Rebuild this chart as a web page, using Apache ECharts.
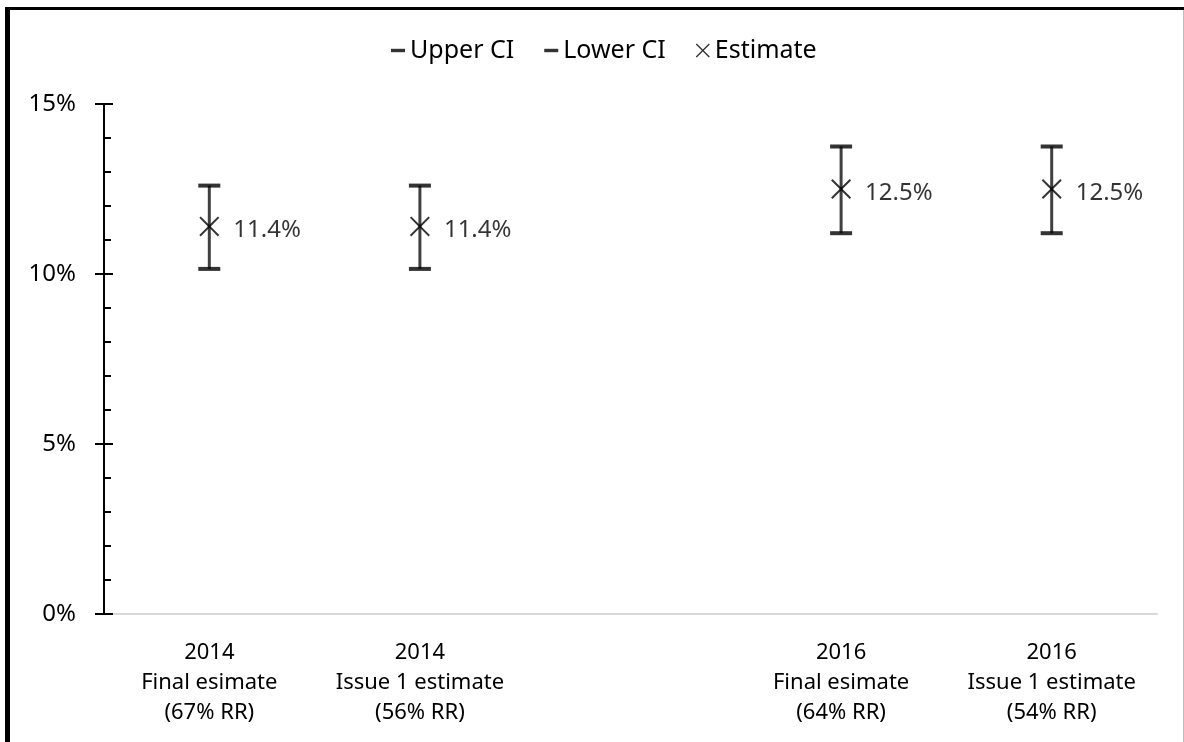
<!DOCTYPE html>
<html>
<head>
<meta charset="utf-8">
<script src="https://cdn.jsdelivr.net/npm/echarts@6/dist/echarts.min.js"></script>
<style>
  html, body { margin: 0; padding: 0; background: #fff; }
  #chart { width: 1184px; height: 742px; }
</style>
</head>
<body>
<div id="chart"></div>
<script>
// Survey estimates with confidence intervals (percent)
const categories = [
  '2014\nFinal esimate\n(67% RR)',
  '2014\nIssue 1 estimate\n(56% RR)',
  '',
  '2016\nFinal esimate\n(64% RR)',
  '2016\nIssue 1 estimate\n(54% RR)'
];
const upperCI  = [12.6, 12.6, null, 13.75, 13.75];
const lowerCI  = [10.15, 10.15, null, 11.2, 11.2];
const estimate = [11.4, 11.4, null, 12.5, 12.5];
const yTicks = [0, 5, 10, 15];

const FONT = '"Noto Sans", "Open Sans", sans-serif';
const TEXT = '#000';

// cross marker drawn as a filled outline so it renders as a thin X
const crossPath = 'path://M0,1.4L1.4,0L10,8.6L18.6,0L20,1.4L11.4,10L20,18.6L18.6,20L10,11.4L1.4,20L0,18.6L8.6,10Z';
// short thick dash, padded to a square box for the legend icon
const dashIcon = 'path://M0,0M14,14M0,5.3h14v3.4h-14z';

const toSeries = arr => arr.map(v => (v == null ? '-' : v));
const rangeData = categories
  .map((c, i) => (lowerCI[i] == null ? null : [i, lowerCI[i], upperCI[i]]))
  .filter(d => d !== null);

const chart = echarts.init(document.getElementById('chart'), null, { renderer: 'canvas' });

chart.setOption({
  backgroundColor: '#fff',
  animation: false,
  textStyle: { fontFamily: FONT },
  grid: { left: 104, right: 27, top: 104, bottom: 128, containLabel: false },
  legend: {
    left: 386,
    top: 33,
    itemWidth: 14,
    itemHeight: 14,
    itemGap: 30,
    textStyle: { fontFamily: FONT, fontSize: 25, color: TEXT },
    data: [
      { name: 'Upper CI', icon: dashIcon },
      { name: 'Lower CI', icon: dashIcon },
      { name: 'Estimate', icon: crossPath }
    ]
  },
  xAxis: {
    type: 'category',
    data: categories,
    boundaryGap: true,
    axisLine: { show: true, lineStyle: { color: '#d9d9d9', width: 2 } },
    axisTick: { show: false },
    axisLabel: {
      interval: 0,
      margin: 24,
      fontFamily: FONT,
      fontSize: 22,
      lineHeight: 30,
      color: TEXT,
      align: 'center'
    },
    splitLine: { show: false }
  },
  yAxis: [
    {
      type: 'value',
      min: 0,
      max: 15,
      interval: 5,
      axisLine: { show: true, onZero: false, lineStyle: { color: '#000', width: 2 } },
      axisTick: { show: true, inside: true, length: 9, lineStyle: { color: '#000', width: 2 } },
      minorTick: { show: true, splitNumber: 5, length: 7, lineStyle: { color: '#000', width: 2 } },
      axisLabel: {
        formatter: v => (yTicks.includes(v) ? v + '%' : ''),
        margin: 28,
        fontFamily: FONT,
        fontSize: 24,
        color: TEXT,
        padding: [4, 0, 0, 0]
      },
      splitLine: { show: false }
    },
    {
      // outward half of the crossing major ticks
      type: 'value',
      position: 'left',
      offset: 0,
      min: 0,
      max: 15,
      interval: 5,
      axisLine: { show: false },
      axisTick: { show: true, inside: false, length: 9, lineStyle: { color: '#000', width: 2 } },
      axisLabel: { show: false },
      splitLine: { show: false }
    }
  ],
  series: [
    {
      name: 'CI range',
      type: 'custom',
      z: 1,
      data: rangeData,
      renderItem: function (params, api) {
        const lo = api.coord([api.value(0), api.value(1)]);
        const hi = api.coord([api.value(0), api.value(2)]);
        return {
          type: 'line',
          shape: { x1: lo[0], y1: lo[1], x2: hi[0], y2: hi[1] },
          style: { stroke: '#404040', lineWidth: 3 }
        };
      },
      silent: true
    },
    {
      name: 'Upper CI',
      type: 'scatter',
      z: 3,
      symbol: 'rect',
      symbolSize: [22, 4],
      itemStyle: { color: '#000' },
      data: toSeries(upperCI)
    },
    {
      name: 'Lower CI',
      type: 'scatter',
      z: 3,
      symbol: 'rect',
      symbolSize: [22, 4],
      itemStyle: { color: '#000' },
      data: toSeries(lowerCI)
    },
    {
      name: 'Estimate',
      type: 'scatter',
      z: 4,
      symbol: crossPath,
      symbolSize: 20,
      itemStyle: { color: '#000' },
      label: {
        show: true,
        position: 'right',
        distance: 14,
        offset: [0, 4],
        formatter: p => p.value.toFixed(1) + '%',
        fontFamily: FONT,
        fontSize: 24,
        color: TEXT
      },
      data: toSeries(estimate)
    }
  ],
  graphic: [
    { type: 'rect', left: 5, top: 7, shape: { width: 1179, height: 3 }, style: { fill: '#000' }, z: 10 },
    { type: 'rect', left: 5, top: 7, shape: { width: 5, height: 735 }, style: { fill: '#000' }, z: 10 },
    { type: 'rect', left: 1183, top: 10, shape: { width: 1, height: 732 }, style: { fill: '#bfbfbf' }, z: 10 }
  ]
});
</script>
</body>
</html>
